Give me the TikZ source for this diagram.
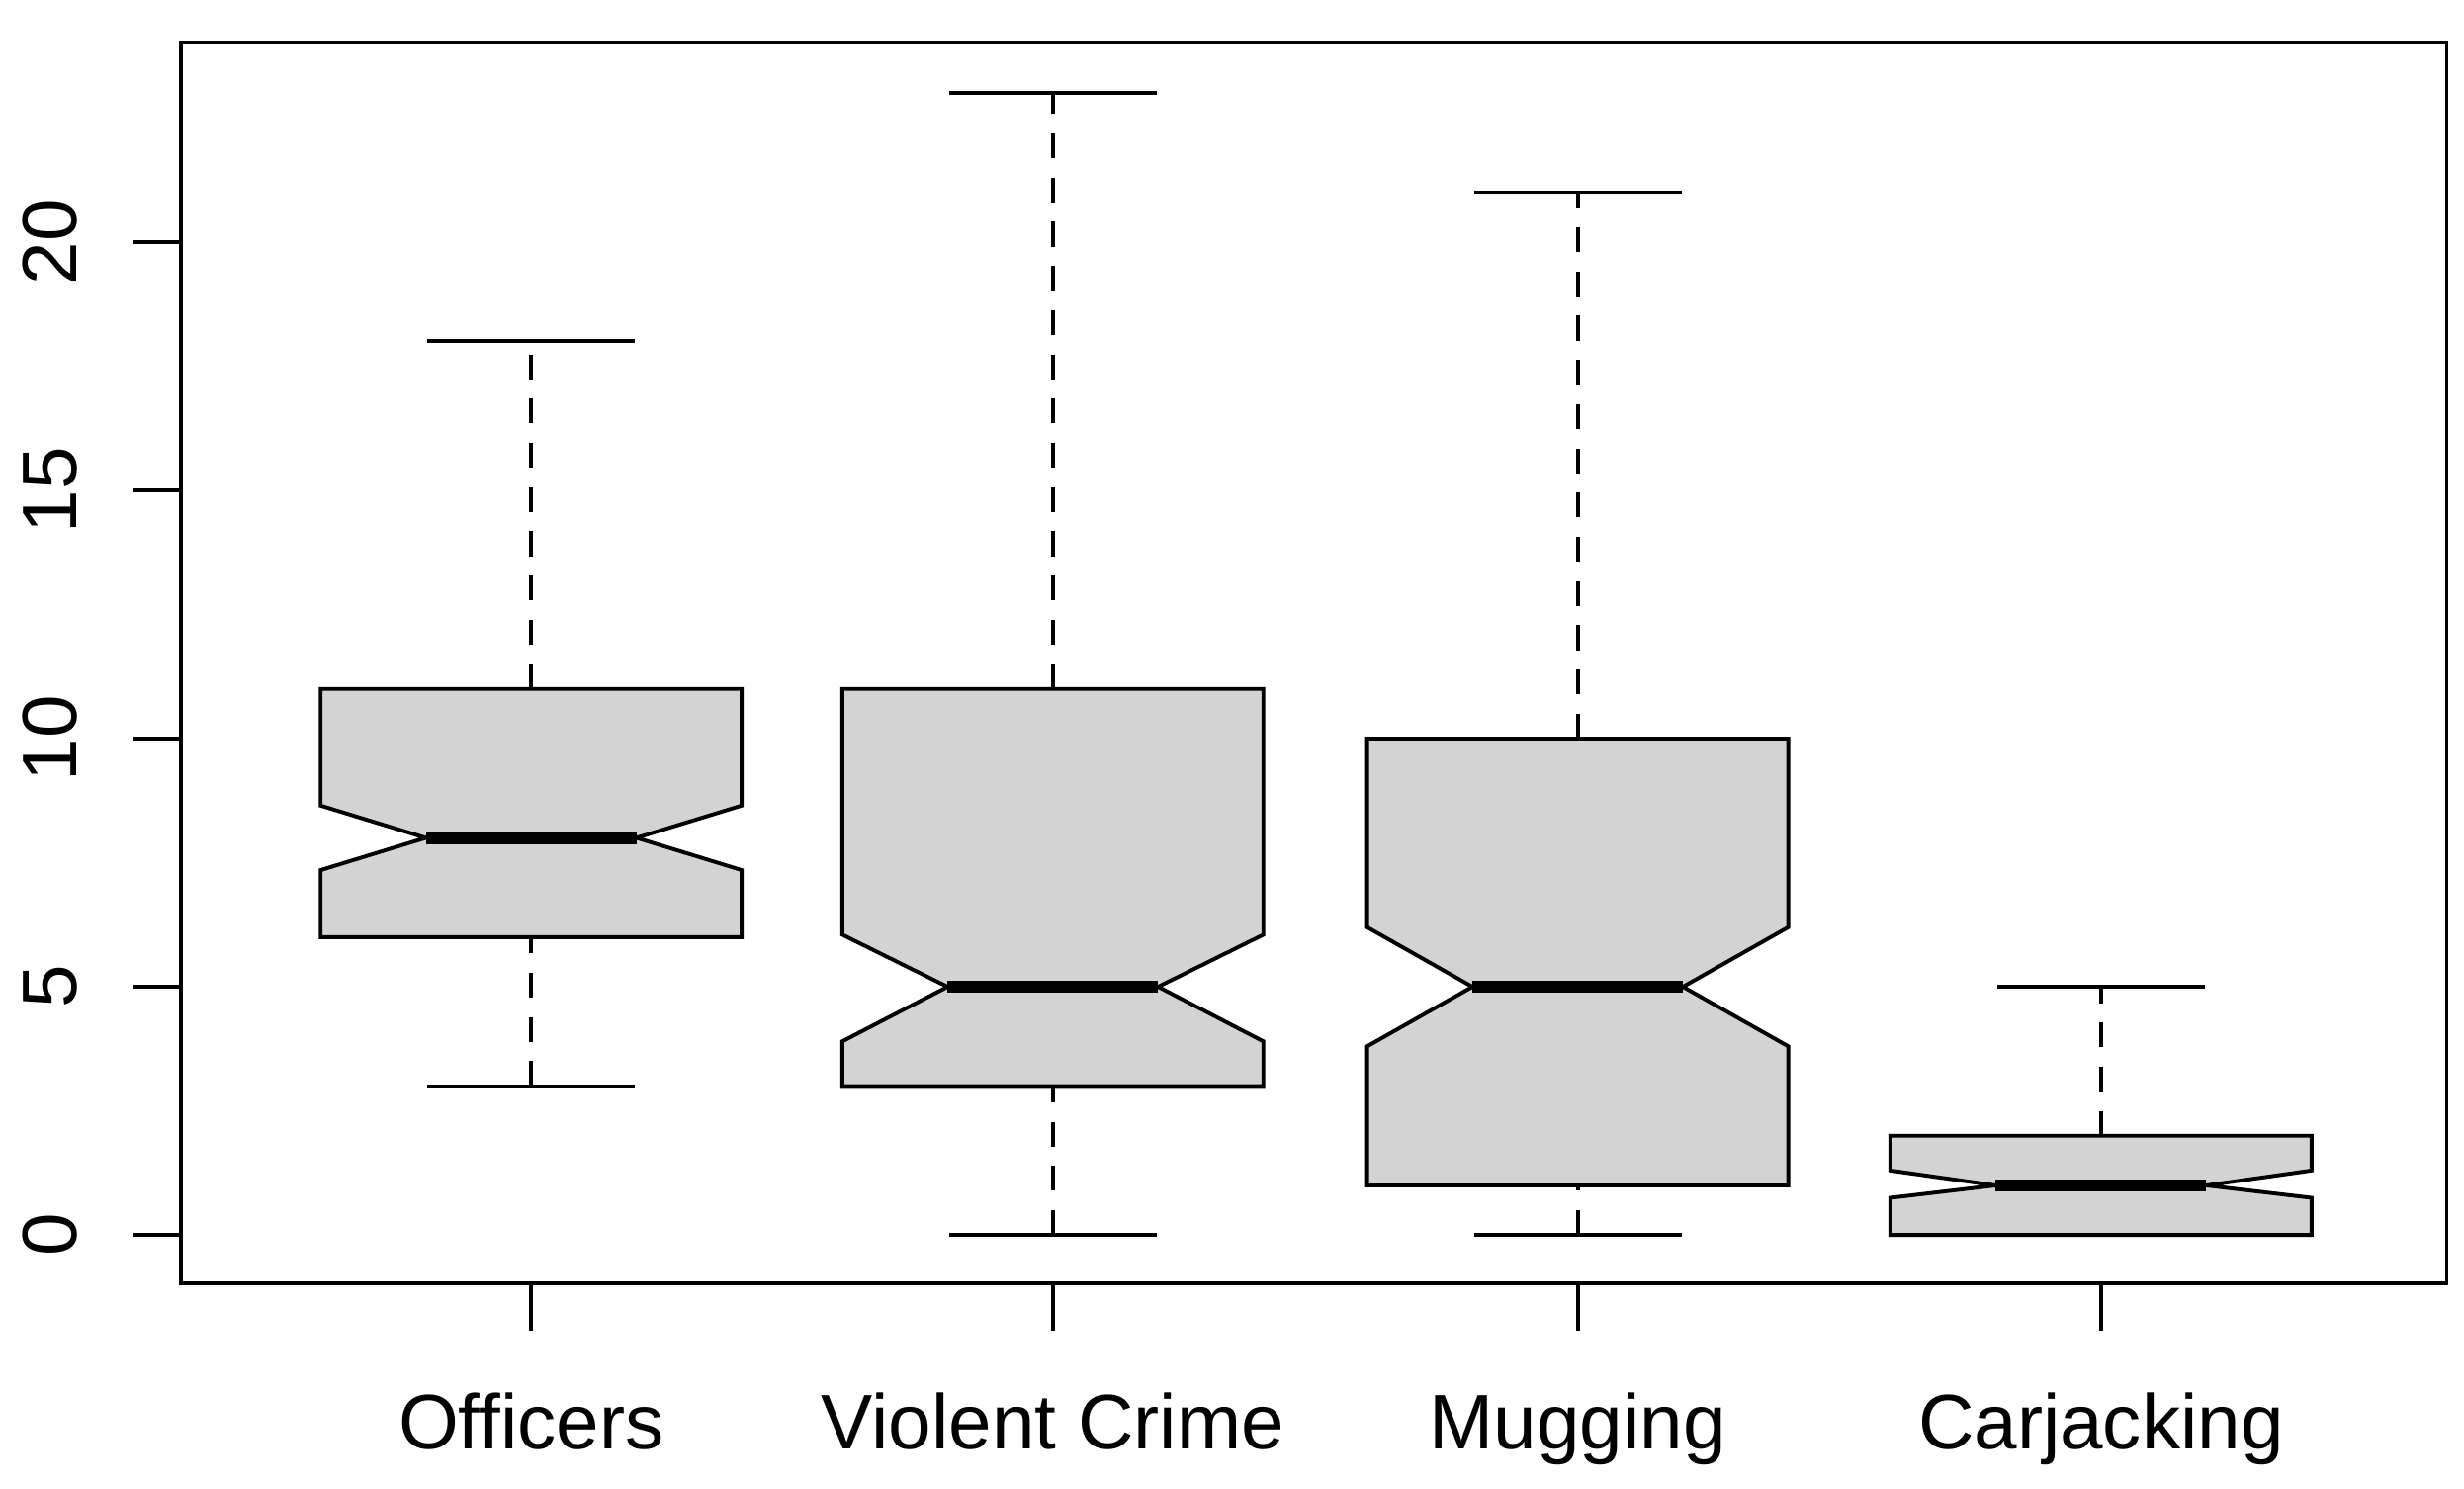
\documentclass[tikz,border=0pt]{standalone}
\usepackage{fontspec}
\setmainfont{Liberation Sans}
\begin{document}
\begin{tikzpicture}[x=0.01cm,y=0.01cm,line width=0.7pt,
  lab/.style={font=\fontsize{14}{16}\selectfont},
  wh/.style={dash pattern=on 4.5pt off 3.5pt}]
\useasboundingbox (0,0) rectangle (1568,947);
% frame
\draw (115,{947-27}) rectangle (1557,{947-817});
% y ticks
\foreach \v in {0,5,10,15,20}{
  \draw (115,{947-(786-31.6*\v)}) -- (85,{947-(786-31.6*\v)});
  \node[lab,rotate=90] at (32,{947-(786-31.6*\v)}) {\v};
}
% boxplot macro: x, min, q1, notchlo, med, notchhi, q3, max
\newcommand\bxp[8]{%
  \pgfmathsetmacro\xa{#1-134}\pgfmathsetmacro\xb{#1+134}%
  \pgfmathsetmacro\na{#1-67}\pgfmathsetmacro\nb{#1+67}%
  \draw[wh] (#1,{947-(786-31.6*#2)}) -- (#1,{947-(786-31.6*#3)});
  \draw[wh] (#1,{947-(786-31.6*#7)}) -- (#1,{947-(786-31.6*#8)});
  \draw ({#1-66},{947-(786-31.6*#2)}) -- ({#1+66},{947-(786-31.6*#2)});
  \draw ({#1-66},{947-(786-31.6*#8)}) -- ({#1+66},{947-(786-31.6*#8)});
  \draw[fill={rgb,255:red,211;green,211;blue,211}]
    (\xa,{947-(786-31.6*#3)}) -- (\xa,{947-(786-31.6*#4)}) -- (\na,{947-(786-31.6*#5)})
    -- (\xa,{947-(786-31.6*#6)}) -- (\xa,{947-(786-31.6*#7)}) -- (\xb,{947-(786-31.6*#7)})
    -- (\xb,{947-(786-31.6*#6)}) -- (\nb,{947-(786-31.6*#5)}) -- (\xb,{947-(786-31.6*#4)})
    -- (\xb,{947-(786-31.6*#3)}) -- cycle;
  \draw[line width=2.2pt] (\na,{947-(786-31.6*#5)}) -- (\nb,{947-(786-31.6*#5)});
  \draw (#1,{947-817}) -- (#1,{947-847});
}
\bxp{338}{3}{6}{7.35}{8}{8.65}{11}{18}
\bxp{670}{0}{3}{3.9}{5}{6.05}{11}{23}
\bxp{1004}{0}{1}{3.8}{5}{6.2}{10}{21}
\bxp{1337}{0}{0}{0.75}{1}{1.3}{2}{5}
\node[lab,anchor=base] (l1) at (338,{947-922}) {Officers};
\node[lab,anchor=base] (l2) at (670,{947-922}) {Violent Crime};
\node[lab,anchor=base] (l3) at (1004,{947-922}) {Mugging};
\node[lab,anchor=base] (l4) at (1337,{947-922}) {Carjacking};
\end{tikzpicture}
\end{document}
